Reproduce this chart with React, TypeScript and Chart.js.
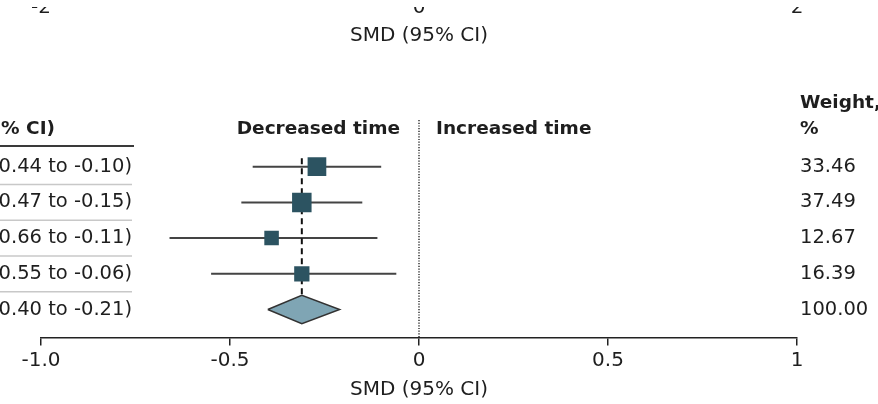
import React, { useEffect, useRef } from 'react';
import { Chart, registerables } from 'chart.js';

Chart.register(...registerables);

// ---- data ----
const studyCiLabels = [
  '-0.27 (-0.44 to -0.10)',
  '-0.31 (-0.47 to -0.15)',
  '-0.39 (-0.66 to -0.11)',
  '-0.31 (-0.55 to -0.06)',
];
const studySmd = [-0.27, -0.31, -0.39, -0.31];
const studyLow = [-0.44, -0.47, -0.66, -0.55];
const studyHigh = [-0.10, -0.15, -0.11, -0.06];
const studyWeights = [33.46, 37.49, 12.67, 16.39];

const overallLabel = '-0.31 (-0.40 to -0.21)';
const overallSmd = -0.31;
const overallLow = -0.40;
const overallHigh = -0.21;
const overallWeight = 100.0;

const xTickValues = [-1, -0.5, 0, 0.5, 1];
const xTickLabels = ['-1.0', '-0.5', '0', '0.5', '1'];
const topTickValues = [-1, 0, 1];
const topTickLabels = ['-2', '0', '2'];
const axisTitle = 'SMD (95% CI)';
const leftHeader = 'SMD (95% CI)';
const leftLabel = 'Decreased time';
const rightLabel = 'Increased time';
const weightHeader = ['Weight,', '%'];

const TEXT = '#1e1e1e';
const SQUARE = '#2c5361';
const DIAMOND_FILL = '#7fa5b4';
const REG = '"DejaVu Sans", sans-serif';

const forestText = {
  id: 'forestText',
  afterDraw(chart: any) {
    const { ctx } = chart;
    const xs = chart.scales.x;
    const ys = chart.scales.y;
    const x0 = xs.getPixelForValue(0);
    ctx.save();
    ctx.fillStyle = TEXT;

    // partial tick labels of the panel above (clipped at top)
    ctx.save();
    ctx.beginPath();
    ctx.rect(0, 7, chart.width, 20);
    ctx.clip();
    ctx.font = `20px ${REG}`;
    ctx.textAlign = 'center';
    ctx.textBaseline = 'alphabetic';
    topTickValues.forEach((v, i) => {
      ctx.fillText(topTickLabels[i], xs.getPixelForValue(v), 12.5);
    });
    ctx.restore();

    // top axis title of panel above
    ctx.font = `20px ${REG}`;
    ctx.textAlign = 'center';
    ctx.textBaseline = 'middle';
    ctx.fillText(axisTitle, x0, 36);

    // headers
    const headerY = ys.getPixelForValue(-0.05);
    ctx.font = `bold 18.5px ${REG}`;
    ctx.textAlign = 'right';
    ctx.fillText(leftHeader, 55, headerY);
    ctx.fillText(leftLabel, x0 - 19, headerY);
    ctx.textAlign = 'left';
    ctx.fillText(rightLabel, x0 + 17, headerY);
    ctx.fillText(weightHeader[0], 800, ys.getPixelForValue(-0.78));
    ctx.fillText(weightHeader[1], 800, headerY);

    // header underline
    ctx.strokeStyle = '#3a3a3a';
    ctx.lineWidth = 2;
    ctx.beginPath();
    const ulY = ys.getPixelForValue(0.42);
    ctx.moveTo(0, ulY);
    ctx.lineTo(134, ulY);
    ctx.stroke();

    // row separators
    ctx.strokeStyle = '#c8c8c8';
    ctx.lineWidth = 1.5;
    for (let i = 1; i <= studySmd.length; i++) {
      const sy = ys.getPixelForValue(i + 0.5);
      ctx.beginPath();
      ctx.moveTo(0, sy);
      ctx.lineTo(132, sy);
      ctx.stroke();
    }

    // row texts
    ctx.font = `19.5px ${REG}`;
    const rows = [...studyCiLabels, overallLabel];
    const ws = [...studyWeights, overallWeight];
    rows.forEach((t, i) => {
      const ry = ys.getPixelForValue(i + 1);
      ctx.textAlign = 'right';
      ctx.fillText(t, 132, ry);
      ctx.textAlign = 'left';
      ctx.fillText(ws[i].toFixed(2), 800, ry);
    });
    ctx.restore();
  },
};

export default function App() {
  const ref = useRef<HTMLCanvasElement | null>(null);

  useEffect(() => {
    if (!ref.current) return;
    const yMin = -0.308;
    const yMax = 5.784;
    const overallRow = studySmd.length + 1;

    const ciData: any[] = [];
    studySmd.forEach((_, i) => {
      ciData.push({ x: studyLow[i], y: i + 1 });
      ciData.push({ x: studyHigh[i], y: i + 1 });
      ciData.push({ x: studyHigh[i], y: null });
    });

    const squares = studySmd.map((v, i) => ({ x: v, y: i + 1 }));
    const radii = studyWeights.map((w) => (12 + w * 0.2) / Math.SQRT2);

    const diamond = [
      { x: overallLow, y: overallRow },
      { x: overallSmd, y: overallRow - 0.4 },
      { x: overallHigh, y: overallRow },
      { x: overallSmd, y: overallRow + 0.4 },
      { x: overallLow, y: overallRow },
    ];

    const chart = new Chart(ref.current, {
      type: 'scatter',
      data: {
        datasets: [
          {
            type: 'line',
            data: [{ x: 0, y: yMin }, { x: 0, y: yMax }],
            borderColor: '#333',
            borderWidth: 1.5,
            borderDash: [1.2, 1.5],
            pointRadius: 0,
            order: 6,
          } as any,
          {
            type: 'line',
            data: ciData,
            borderColor: '#444',
            borderWidth: 2,
            pointRadius: 0,
            spanGaps: false,
            order: 5,
          } as any,
          {
            type: 'line',
            data: [{ x: overallSmd, y: 0.76 }, { x: overallSmd, y: overallRow - 0.42 }],
            borderColor: '#111',
            borderWidth: 2,
            borderDash: [6, 4],
            pointRadius: 0,
            order: 4,
          } as any,
          {
            type: 'line',
            data: diamond,
            borderColor: '#333',
            borderWidth: 1.5,
            backgroundColor: DIAMOND_FILL,
            fill: 'shape',
            pointRadius: 0,
            tension: 0,
            order: 3,
          } as any,
          {
            type: 'scatter',
            data: squares,
            pointStyle: 'rect',
            pointRadius: radii,
            backgroundColor: SQUARE,
            borderColor: SQUARE,
            borderWidth: 0,
            order: 1,
          } as any,
        ],
      },
      options: {
        animation: false,
        responsive: false,
        events: [],
        layout: { padding: { left: 41, right: 81, top: 120, bottom: 0 } },
        plugins: { legend: { display: false }, tooltip: { enabled: false } },
        scales: {
          x: {
            type: 'linear',
            min: -1,
            max: 1,
            afterBuildTicks: (s: any) => {
              s.ticks = xTickValues.map((v) => ({ value: v }));
            },
            afterFit: (s: any) => {
              s.height = 404 - 337.5;
            },
            ticks: {
              autoSkip: false,
              maxRotation: 0,
              padding: 3,
              color: TEXT,
              font: { family: 'DejaVu Sans', size: 20 },
              callback: (_v: any, i: number) => xTickLabels[i],
            },
            grid: {
              display: true,
              drawOnChartArea: false,
              drawTicks: true,
              tickLength: 8,
              color: '#222',
              lineWidth: 1.5,
            },
            border: { display: true, color: '#222', width: 1.5 },
            title: {
              display: true,
              text: axisTitle,
              color: TEXT,
              font: { family: 'DejaVu Sans', size: 20 },
              padding: { top: 0, bottom: 2 },
            },
          },
          y: {
            type: 'linear',
            display: false,
            reverse: true,
            min: yMin,
            max: yMax,
          },
        },
      } as any,
      plugins: [forestText],
    });
    return () => chart.destroy();
  }, []);

  return (
    <div style={{ position: 'absolute', left: 0, top: 0, width: 878, height: 404, background: '#fff' }}>
      <canvas ref={ref} width={878} height={404} style={{ display: 'block' }} />
    </div>
  );
}
